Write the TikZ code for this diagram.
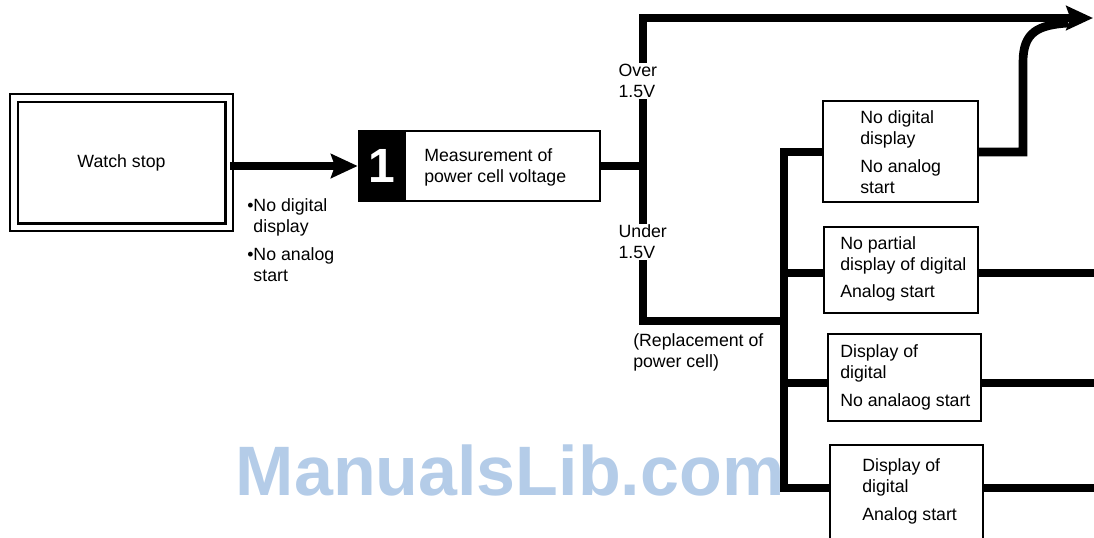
\documentclass[tikz,border=0pt]{standalone}
\usepackage{fontspec}
\setmainfont{Liberation Sans}
\usetikzlibrary{arrows.meta}
\definecolor{wm}{RGB}{180,204,232}
\begin{document}
\begin{tikzpicture}[x=0.75pt,y=-0.75pt,
  every node/.style={font=\fontsize{13.3}{15.75}\selectfont, inner sep=0pt},
  box/.style={draw, line width=1.6pt, fill=white},
  flow/.style={line width=6.5pt, line join=miter},
  arr/.style={flow, -{Stealth[length=20pt,width=18pt,inset=3pt]}},
  lbl/.style={align=left, anchor=west},
  cut/.style={align=left, anchor=west, fill=white, inner sep=1pt}]
\useasboundingbox (0,0) rectangle (1094,537);
% watermark
\node[font=\fontsize{52.5}{52.5}\selectfont\bfseries, text=wm] (wmark) at (510,470) {ManualsLib.com};
% coordinates
\coordinate (j) at (643,166);
\coordinate (top) at (643,18);
\coordinate (out1) at (1093,18);
\coordinate (low) at (643,321);
\coordinate (busL) at (784,321);
\coordinate (bA) at (784,152);
\coordinate (bB) at (784,273);
\coordinate (bC) at (784,383);
\coordinate (bD) at (784,488);
\coordinate (rB) at (1094,273);
\coordinate (rC) at (1094,383);
\coordinate (rD) at (1094,488);
\coordinate (up1) at (1023,152);
\coordinate (up2) at (1023,62);
\coordinate (mg) at (1068,23);
% nodes
\node[draw, line width=1.6pt, double, double distance=4pt, minimum width=161.5pt, minimum height=97pt] (ws) at (121.5,162.5) {Watch stop};
\node[draw, fill=black, line width=2pt, minimum width=34.5pt, minimum height=52.5pt, text=white, font=\fontsize{36}{36}\selectfont\bfseries] (num) at (382,166) {1};
\node[box, line width=2pt, minimum width=146.25pt, minimum height=52.5pt] (meas) at (502.5,166) {};
\node[lbl] (measT) at (424,167) {Measurement of\\power cell voltage};
\node[lbl] (bul) at (247,240) {\textbullet No digital\\\hphantom{\textbullet}display\\[5pt]\textbullet No analog\\\hphantom{\textbullet}start};
\node[box, minimum width=116.25pt, minimum height=75.75pt] (A) at (900.5,151.5) {};
\node[box, minimum width=115.5pt, minimum height=64.5pt] (B) at (901,270) {};
\node[box, minimum width=114.75pt, minimum height=65.25pt] (C) at (904.5,377.5) {};
\node[box, minimum width=114.75pt, minimum height=82pt] (D) at (906.5,500) {};
\node[lbl] (AT) at (860,152) {No digital\\display\\[5pt]No analog\\start};
\node[lbl] (BT) at (840,269) {No partial\\display of digital\\[5pt]Analog start};
\node[lbl] (CT) at (840,377.5) {Display of\\digital\\[5pt]No analaog start};
\node[lbl] (DT) at (862,491.5) {Display of\\digital\\[5pt]Analog start};
% connectors
\draw[arr] (ws.east |- num.west) -- (num.west);
\draw[flow] (meas.east) -- (j);
\draw[arr] (busL) -- (low) -- (top) -- (out1);
\draw[flow] (A.west |- bA) -- (bA) -- (bD) -- (D.west |- bD);
\draw[flow] (bB) -- (B.west |- bB);
\draw[flow] (bC) -- (C.west |- bC);
\draw[flow] (A.east |- bA) -- (up1) -- (up2) .. controls (1023,32) and (1038,25) .. (mg);
\draw[flow] (B.east |- bB) -- (rB);
\draw[flow] (C.east |- bC) -- (rC);
\draw[flow] (D.east |- bD) -- (rD);
% labels on the line
\node[cut] (over) at (617,81) {Over\\1.5V};
\node[cut] (under) at (617,242) {Under\\1.5V};
\node[lbl] (repl) at (633,352) {(Replacement of\\power cell)};
\end{tikzpicture}
\end{document}
